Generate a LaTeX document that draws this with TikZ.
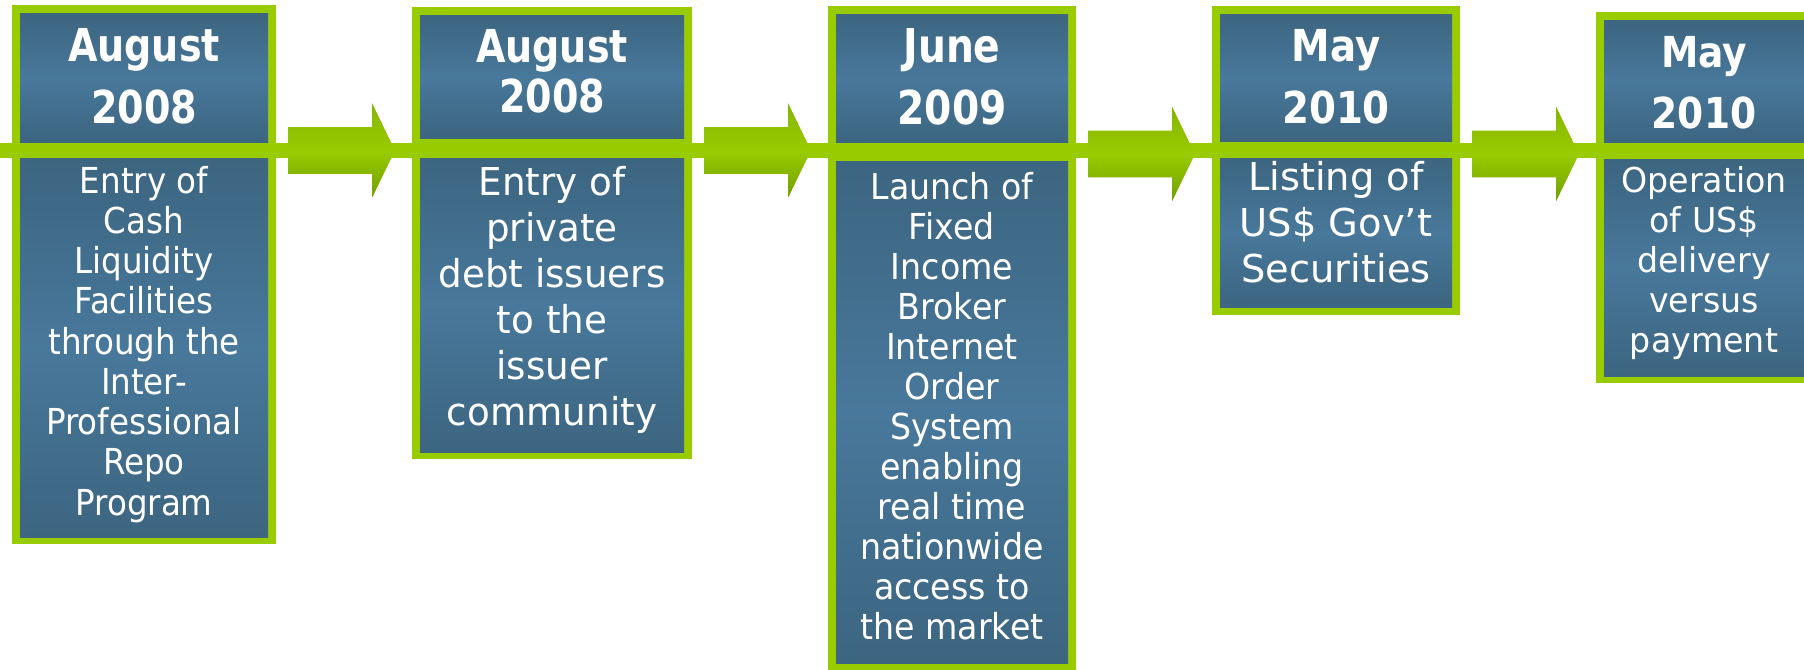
\documentclass[tikz,border=0pt]{standalone}
\usepackage{fontspec}
\setmainfont{DejaVu Sans}
\usetikzlibrary{calc,fit}

\definecolor{tlgreen}{HTML}{99CC00}
\definecolor{tlgreentop}{HTML}{86B400}
\definecolor{tlgreenlow}{HTML}{729E00}
\definecolor{panelout}{HTML}{3C6580}
\definecolor{panelmid}{HTML}{48789B}

% fonts: size in pt, horizontal stretch factor
\newcommand\headfont[2]{\bfseries\fontsize{#1}{#1}\selectfont\addfontfeature{FakeStretch=#2}}
\newcommand\bodyfont[2]{\fontsize{#1}{#1}\selectfont\addfontfeature{FakeStretch=#2}}

\tikzset{
  greenframe/.style={fill=tlgreen, inner sep=0pt, outer sep=0pt},
  panel/.style={top color=panelout, bottom color=panelout, middle color=panelmid},
  txt/.style={anchor=base, text=white, inner sep=0pt},
  arrowshade/.style={top color=tlgreentop, bottom color=tlgreenlow, middle color=tlgreen},
}

% one centred line of text per entry: name, x, first baseline, line step, font, lines
\newcommand\linestack[6]{%
  \foreach \ln [count=\k from 0] in {#6}
    \node[txt, font={#5}] (#1-\k) at (#2, {#3+\k*#4}) {\ln};}

% block arrow from one event box to the next, centred on height #3
\newcommand\blockarrow[3]{%
  \path[arrowshade] let \p1=(#1.east), \p2=(#2.west), \p3=(0,#3) in
    (\x1+9pt,\y3+17.6pt) -- (\x2-30pt,\y3+17.6pt) -- (\x2-30pt,\y3+35.6pt)
    -- (\x2-12.75pt,\y3) -- (\x2-30pt,\y3-35.6pt) -- (\x2-30pt,\y3-17.6pt)
    -- (\x1+9pt,\y3-17.6pt) -- cycle;}

\begin{document}
\begin{tikzpicture}[x=0.75pt,y=-0.75pt]
  \useasboundingbox (0,0) rectangle (1804,669);
  \clip (0,0) rectangle (1804,669);
  \fill[white] (0,0) rectangle (1804,669);

  % event boxes: green frame, date panel and description panel
  \node[greenframe, fit={(12,5)(276,544)}] (b1) {};
  \fill[panel] (20,13) rectangle (268,143);
  \fill[panel] (20,158) rectangle (268,537);

  \node[greenframe, fit={(412,7)(692,459)}] (b2) {};
  \fill[panel] (420,15) rectangle (684,138);
  \fill[panel] (420,158) rectangle (684,452);

  \node[greenframe, fit={(828,6)(1076,672)}] (b3) {};
  \fill[panel] (836,14) rectangle (1068,143);
  \fill[panel] (836,161) rectangle (1068,663);

  \node[greenframe, fit={(1212,6)(1460,315)}] (b4) {};
  \fill[panel] (1220,14) rectangle (1452,141);
  \fill[panel] (1220,158) rectangle (1452,307);

  \node[greenframe, fit={(1596,12)(1812,383)}] (b5) {};
  \fill[panel] (1604,20) rectangle (1804,143);
  \fill[panel] (1604,159) rectangle (1804,376);

  % the time line
  \fill[tlgreen] (0,143) rectangle (1804,158);

  % arrows between the events
  \blockarrow{b1}{b2}{150.5}
  \blockarrow{b2}{b3}{150.5}
  \blockarrow{b3}{b4}{154}
  \blockarrow{b4}{b5}{154}

  % dates
  \linestack{d1}{144}{61}{62}{\headfont{34}{0.84}}{August,2008}
  \linestack{d2}{552}{62}{50}{\headfont{34}{0.84}}{August,2008}
  \linestack{d3}{952}{62}{62}{\headfont{35}{0.84}}{June,2009}
  \linestack{d4}{1336}{61}{62}{\headfont{33}{0.88}}{May,2010}
  \linestack{d5}{1704}{67}{61}{\headfont{32}{0.88}}{May,2010}

  % descriptions
  \linestack{t1}{144}{193}{40.25}{\bodyfont{26.8}{0.91}}%
    {Entry of,Cash,Liquidity,Facilities,through the,Inter-,Professional,Repo,Program}
  \linestack{t2}{552}{195}{46}{\bodyfont{28.8}{0.97}}%
    {Entry of,private,debt issuers,to the,issuer,community}
  \linestack{t3}{952}{199}{40}{\bodyfont{26.8}{0.93}}%
    {Launch of,Fixed,Income,Broker,Internet,Order,System,enabling,real time,nationwide,access to,the market}
  \linestack{t4}{1336}{190}{46}{\bodyfont{28.8}{1.0}}%
    {Listing of,US\$ Gov’t,Securities}
  \linestack{t5}{1704}{192}{40}{\bodyfont{25.7}{0.97}}%
    {Operation,of US\$,delivery,versus,payment}
\end{tikzpicture}
\end{document}
